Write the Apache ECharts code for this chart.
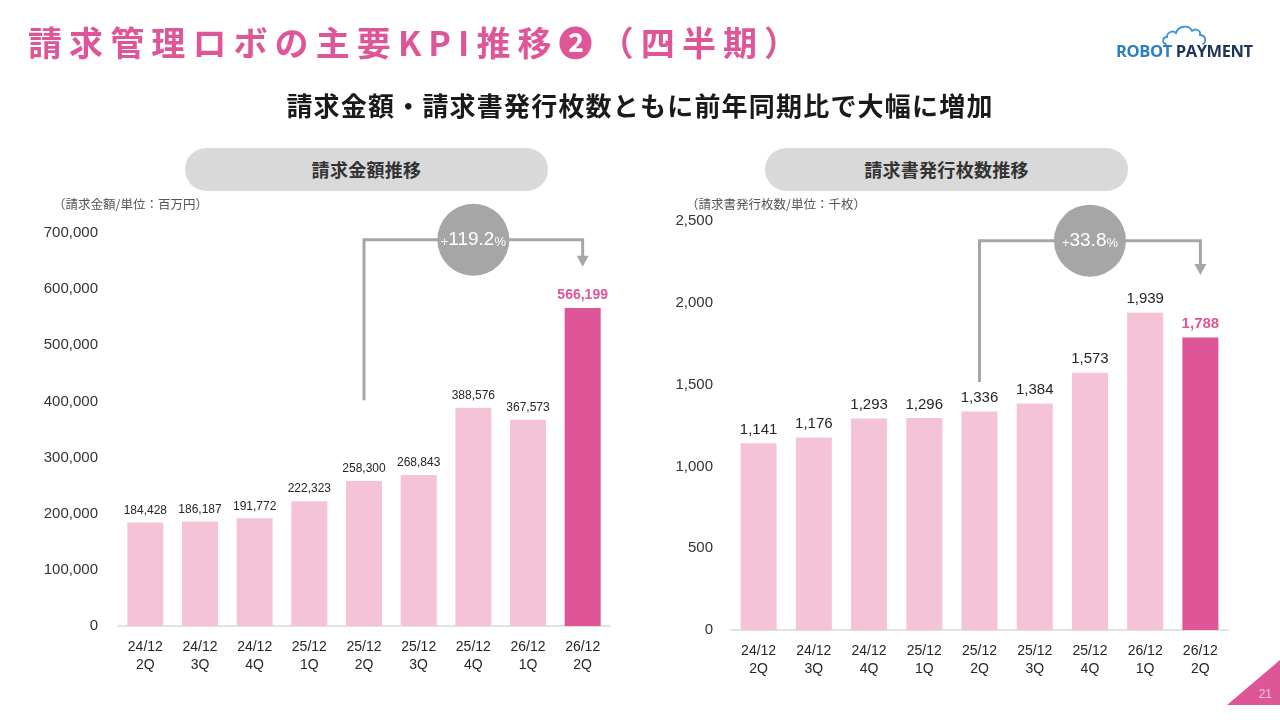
<!DOCTYPE html>
<html><head><meta charset="utf-8">
<script src="https://cdn.jsdelivr.net/npm/echarts@6/dist/echarts.min.js"></script>
<style>
html,body{margin:0;padding:0;background:#fff;}
#wrap{position:relative;width:1280px;height:720px;overflow:hidden;font-family:"Noto Sans CJK JP","Liberation Sans",sans-serif;}
#chart{position:absolute;left:0;top:0;width:1280px;height:720px;}
.abs{position:absolute;white-space:nowrap;}
#title{left:28px;top:18px;font-size:34px;font-weight:700;color:#DE5598;letter-spacing:7.1px;line-height:48px;}
#sub{left:0;width:1280px;text-align:center;top:86px;font-size:26px;font-weight:700;color:#1a1a1a;line-height:38px;letter-spacing:1.2px;}
.pill{background:#D9D9D9;border-radius:22px;height:43px;line-height:43px;text-align:center;font-size:18px;font-weight:700;color:#333;top:148px;width:363px;letter-spacing:0.3px;}
.unit{font-size:12.5px;color:#555;top:194px;}
#pg{right:0;bottom:0;width:66px;height:60px;}
</style></head>
<body><div id="wrap">
<div id="chart"></div>
<div id="title" class="abs">請求管理ロボの主要KPI推移❷（四半期）</div>
<div id="sub" class="abs">請求金額・請求書発行枚数ともに前年同期比で大幅に増加</div>
<div class="abs pill" style="left:185px;">請求金額推移</div>
<div class="abs pill" style="left:765px;">請求書発行枚数推移</div>
<div class="abs unit" style="left:53px;">（請求金額/単位：百万円）</div>
<div class="abs unit" style="left:686px;">（請求書発行枚数/単位：千枚）</div>
<div class="abs" style="left:1116px;top:39px;font-family:'Open Sans','Liberation Sans',sans-serif;font-weight:700;font-size:16.5px;letter-spacing:-0.4px;">
<span style="color:#2B7FC1;">ROBOT</span> <span style="color:#1E3557;">PAYMENT</span></div>
<svg class="abs" style="left:1162px;top:23px;" width="50" height="24" viewBox="0 0 50 24">
<path d="M4,21 C0,21 0,14 5,14 C5,9 11,7 14,10 C16,3 27,1 30,8 C33,5 39,7 38,12 C43,12 45,18 41,21" fill="none" stroke="#3D94D6" stroke-width="1.8" stroke-linecap="round"/>
</svg>
<svg class="abs" id="pg" width="66" height="60" viewBox="0 0 66 60">
<polygon points="13,45 66,45 66,0" fill="#DE5598"/>
<text x="58" y="38" font-size="12" fill="#F7C9DC" text-anchor="end" font-family="Liberation Sans, sans-serif">21</text>
</svg>
</div>
<script>
// ---- data ----
const categories = ['24/12\n2Q','24/12\n3Q','24/12\n4Q','25/12\n1Q','25/12\n2Q','25/12\n3Q','25/12\n4Q','26/12\n1Q','26/12\n2Q'];
const billingAmount = [184428,186187,191772,222323,258300,268843,388576,367573,566199];
const invoiceCount = [1141,1176,1293,1296,1336,1384,1573,1939,1788];
const leftTicks = {min:0,max:700000,interval:100000};
const rightTicks = {min:0,max:2500,interval:500};
const leftGrowth = {from:4,to:8,text:'119.2'};
const rightGrowth = {from:4,to:8,text:'33.8'};

const PINK_LIGHT = '#F4C3D8';
const PINK = '#DE5598';
const numFont = '"Liberation Sans","Noto Sans CJK JP",sans-serif';
const fmt = v => v.toLocaleString('en-US');

function barData(arr, bigLabel){
  return arr.map((v,i)=>{
    const last = i===arr.length-1;
    return {value:v,
      itemStyle:{color:last?PINK:PINK_LIGHT},
      label:last?{color:PINK,fontWeight:'bold',fontSize:bigLabel?15:14}:undefined};
  });
}

const chart = echarts.init(document.getElementById('chart'),null,{renderer:'canvas'});
const xAxisBase = {
  type:'category', data:categories,
  axisTick:{show:false},
  axisLine:{lineStyle:{color:'#D9D9D9',width:1.5}},
  axisLabel:{color:'#262626',fontSize:14,lineHeight:18,fontFamily:numFont,margin:12,interval:0}
};
const yAxisBase = {
  type:'value', splitLine:{show:false}, axisLine:{show:false}, axisTick:{show:false},
  axisLabel:{color:'#333',fontSize:15,fontFamily:numFont,formatter:v=>fmt(v)}
};
chart.setOption({
  animation:false,
  grid:[
    {left:118,top:233,width:492,height:393},
    {left:731,top:221,width:497,height:409}
  ],
  xAxis:[Object.assign({gridIndex:0},xAxisBase),Object.assign({gridIndex:1},xAxisBase)],
  yAxis:[
    Object.assign({gridIndex:0},yAxisBase,leftTicks,{axisLabel:Object.assign({},yAxisBase.axisLabel,{margin:20})}),
    Object.assign({gridIndex:1},yAxisBase,rightTicks,{axisLabel:Object.assign({},yAxisBase.axisLabel,{margin:18})})
  ],
  series:[
    {type:'bar',xAxisIndex:0,yAxisIndex:0,barWidth:36,data:barData(billingAmount,false),
     label:{show:true,position:'top',distance:6,color:'#262626',fontSize:12,fontFamily:numFont,formatter:p=>fmt(p.value)}},
    {type:'bar',xAxisIndex:1,yAxisIndex:1,barWidth:36,data:barData(invoiceCount,true),
     label:{show:true,position:'top',distance:6,color:'#262626',fontSize:15,fontFamily:numFont,formatter:p=>fmt(p.value)}}
  ]
});

// connectors computed from the axes
function connector(gridIndex, g, startVal, lineVal, tipVal){
  const p = (i,v)=>chart.convertToPixel({gridIndex:gridIndex},[i,v]);
  const a = p(g.from,startVal), b = p(g.from,lineVal), c = p(g.to,lineVal), d = p(g.to,tipVal);
  const cx = (b[0]+c[0])/2, cy = b[1];
  const col = '#A6A6A6';
  return [
    {type:'polyline',shape:{points:[a,b,c,[d[0],d[1]-9]]},style:{stroke:col,lineWidth:3,fill:null},z:10},
    {type:'polygon',shape:{points:[[d[0]-6,d[1]-11],[d[0]+6,d[1]-11],[d[0],d[1]]]},style:{fill:col},z:10},
    {type:'circle',shape:{cx:cx,cy:cy,r:36},style:{fill:col},z:11},
    {type:'text',x:cx,y:cy,z:12,style:{
      text:'{s|+}{b|'+g.text+'}{s|%}',align:'center',verticalAlign:'middle',
      rich:{s:{fontSize:13,fill:'#fff',fontFamily:numFont,verticalAlign:'bottom'},
            b:{fontSize:19,fill:'#fff',fontFamily:numFont}}}}
  ];
}
chart.setOption({graphic:[].concat(
  connector(0,leftGrowth,402000,688000,640000),
  connector(1,rightGrowth,1516,2380,2170)
)});
</script>
</body></html>
